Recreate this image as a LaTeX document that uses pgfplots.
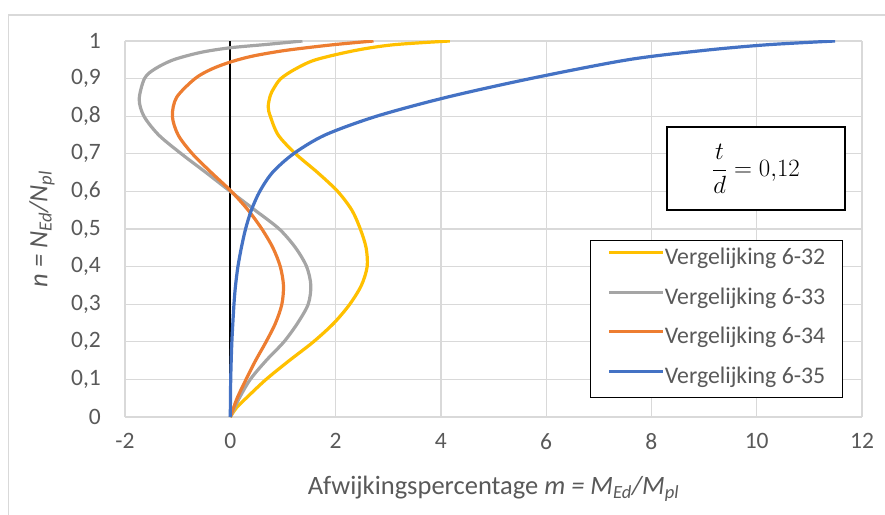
\documentclass[border=0pt]{standalone}
\usepackage{pgfplots}
\pgfplotsset{compat=1.18}
\usepackage{fontspec}
\setmainfont{Carlito}

\definecolor{c32}{HTML}{FFC000}
\definecolor{c33}{HTML}{A5A5A5}
\definecolor{c34}{HTML}{ED7D31}
\definecolor{c35}{HTML}{4472C4}
\definecolor{gridgray}{HTML}{D9D9D9}
\definecolor{txtgray}{HTML}{595959}

\newcommand{\tickfont}{\fontsize{23.5}{28}\selectfont}
\newcommand{\legfont}{\fontsize{23.8}{28}\selectfont}
\newcommand{\titlefont}{\fontsize{26.5}{31}\selectfont}

\begin{document}
\begin{tikzpicture}[x=1pt,y=1pt]
\path[use as bounding box] (0,0) rectangle (885,514);
% chart area outline
\draw[gridgray, line width=1.3pt] (8.3,-2) -- (8.3,499) -- (887,499);

\begin{axis}[
  at={(125pt,97pt)}, anchor=south west,
  scale only axis, width=737pt, height=376pt,
  xmin=-2, xmax=12, ymin=0, ymax=1,
  xtick={-2,0,2,4,6,8,10,12},
  xticklabels={-2,0,2,4,6,8,10,12},
  ytick={0,0.1,0.2,0.3,0.4,0.5,0.6,0.7,0.8,0.9,1},
  yticklabels={0,{0,1},{0,2},{0,3},{0,4},{0,5},{0,6},{0,7},{0,8},{0,9},1},
  axis line style={draw=none},
  tick style={draw=none},
  grid=major,
  grid style={gridgray, line width=1.3pt},
  ticklabel style={font=\tickfont, text=txtgray, inner sep=0pt},
  xticklabel style={yshift=-16.5pt},
  yticklabel style={xshift=-24pt},
  xlabel={Afwijkingspercentage \textit{m = M\textsubscript{Ed}/M\textsubscript{pl}}},
  ylabel={\textit{n = N\textsubscript{Ed}/N\textsubscript{pl}}},
  xlabel style={at={(0.5,-0.191)}, anchor=center, font=\titlefont, text=txtgray},
  ylabel style={at={(-0.1126,0.5)}, anchor=center, font=\titlefont, text=txtgray},
  legend cell align=left,
  legend image code/.code={\draw[#1, sharp plot] (0pt,7pt) -- (54pt,7pt);},
  legend style={at={(0.631,0.472)}, anchor=north west,
    draw=black, line width=1.2pt, fill=white,
    font=\legfont, text=txtgray,
    inner xsep=17pt, inner ysep=8.5pt,
    row sep=17.5pt,
    nodes={inner sep=0pt, text height=16pt, text depth=6pt},
    /tikz/every even column/.append style={column sep=5pt}},
]

% vertical axis line at m = 0
\addplot[black, line width=2pt, sharp plot, forget plot] coordinates {(0,0) (0,1)};

% Vergelijking 6-32
\addplot[c32, line width=3.2pt, smooth, tension=0.5, line join=round] coordinates {
(0,0) (0.12,0.025) (0.30,0.05) (0.68,0.1) (1.12,0.15) (1.58,0.2) (1.97,0.25)
(2.27,0.3) (2.49,0.35) (2.60,0.4) (2.58,0.45) (2.47,0.5) (2.31,0.55)
(2.04,0.6) (1.66,0.65) (1.24,0.7) (0.91,0.75) (0.76,0.8) (0.72,0.825)
(0.76,0.855) (0.83,0.875) (0.96,0.9) (1.23,0.925) (1.62,0.95) (2.38,0.975)
(3.10,0.99) (4.17,1.0)};
\addlegendentry{Vergelijking 6-32}

% Vergelijking 6-33
\addplot[c33, line width=3.2pt, smooth, tension=0.5, line join=round] coordinates {
(0,0) (0.17,0.05) (0.38,0.1) (0.68,0.15) (1.02,0.2) (1.28,0.25) (1.48,0.3)
(1.53,0.35) (1.45,0.4) (1.24,0.45) (0.93,0.5) (0.47,0.55) (0,0.6)
(-0.46,0.65) (-0.93,0.7) (-1.36,0.75) (-1.64,0.8) (-1.73,0.845) (-1.63,0.9)
(-1.44,0.925) (-1.08,0.95) (-0.55,0.97) (0,0.982) (0.70,0.991) (1.37,1.0)};
\addlegendentry{Vergelijking 6-33}

% Vergelijking 6-34
\addplot[c34, line width=3.2pt, smooth, tension=0.5, line join=round] coordinates {
(0,0) (0.13,0.05) (0.30,0.1) (0.48,0.15) (0.68,0.2) (0.86,0.25) (0.98,0.3)
(1.01,0.35) (0.95,0.4) (0.81,0.45) (0.60,0.5) (0.34,0.55) (0.02,0.6)
(-0.36,0.65) (-0.72,0.7) (-0.99,0.75) (-1.10,0.8) (-1.02,0.85) (-0.67,0.9)
(-0.36,0.925) (0,0.944) (0.43,0.96) (1.05,0.975) (1.95,0.99) (2.72,1.0)};
\addlegendentry{Vergelijking 6-34}

% Vergelijking 6-35
\addplot[c35, line width=3.2pt, smooth, tension=0.5, line join=round] coordinates {
(0,0) (0.008,0.1) (0.03,0.2) (0.07,0.3) (0.10,0.35) (0.145,0.4) (0.21,0.45)
(0.29,0.5) (0.40,0.55) (0.56,0.6) (0.80,0.65) (1.20,0.7) (1.80,0.75)
(2.78,0.8) (4.10,0.85) (5.70,0.9) (7.55,0.95) (9.0,0.975) (10.2,0.99)
(11.49,1.0)};
\addlegendentry{Vergelijking 6-35}

\end{axis}

% parameter box
\node[draw=black, line width=1.2pt, fill=white, minimum width=178pt,
  minimum height=83pt, inner sep=0pt, font=\fontsize{28}{32}\selectfont]
  at (756,345.5) {$\displaystyle\frac{t}{d} = 0{,}12$};
\end{tikzpicture}
\end{document}
